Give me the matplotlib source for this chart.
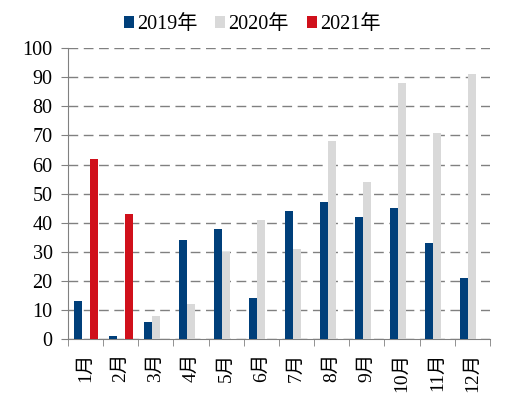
import numpy as np
import matplotlib.pyplot as plt

months = ["1月", "2月", "3月", "4月", "5月", "6月", "7月", "8月", "9月", "10月", "11月", "12月"]
y2019 = [13, 1, 6, 34, 38, 14, 44, 47, 42, 45, 33, 21]
y2020 = [0, 0, 8, 12, 30, 41, 31, 68, 54, 88, 71, 91]
y2021 = [62, 43, 0, 0, 0, 0, 0, 0, 0, 0, 0, 0]

fam = ["Liberation Serif", "Noto Sans CJK SC"]
plt.rcParams["font.family"] = fam

fig = plt.figure(figsize=(5.13, 3.98), dpi=100)
ax = fig.add_axes([0.1326, 0.148, 0.8224, 0.731])

x = np.arange(len(months))
w = 0.227
ax.bar(x - w, y2019, w, color="#003f7a", label="2019年", zorder=3)
ax.bar(x, y2020, w, color="#d9d9d9", label="2020年", zorder=3)
ax.bar(x + w, y2021, w, color="#d0101b", label="2021年", zorder=3)

ax.set_xlim(-0.5, 11.5)
ax.set_ylim(0, 100)
ax.set_yticks(range(0, 101, 10))
ax.yaxis.grid(True, linestyle=(0, (7, 4)), color="#808080", linewidth=1)
ax.set_axisbelow(True)

ax.set_xticks(x)
ax.set_xticklabels(months, rotation=90, fontsize=14)
ax.set_xticks(np.arange(-0.5, 12, 1), minor=True)
ax.tick_params(axis="x", which="major", length=0, pad=10)
ax.tick_params(axis="x", which="minor", length=5, color="#808080", direction="out")
ax.tick_params(axis="y", length=5, color="#808080", labelsize=14.5, pad=6)

for s in ["top", "right"]:
    ax.spines[s].set_visible(False)
for s in ["left", "bottom"]:
    ax.spines[s].set_color("#808080")

ax.legend(loc="upper center", bbox_to_anchor=(0.436, 1.175), ncol=3, frameon=False,
          fontsize=14.5, handlelength=0.5, handleheight=0.5, handletextpad=0.15,
          columnspacing=0.9)

fig.savefig("out.png", dpi=100)
